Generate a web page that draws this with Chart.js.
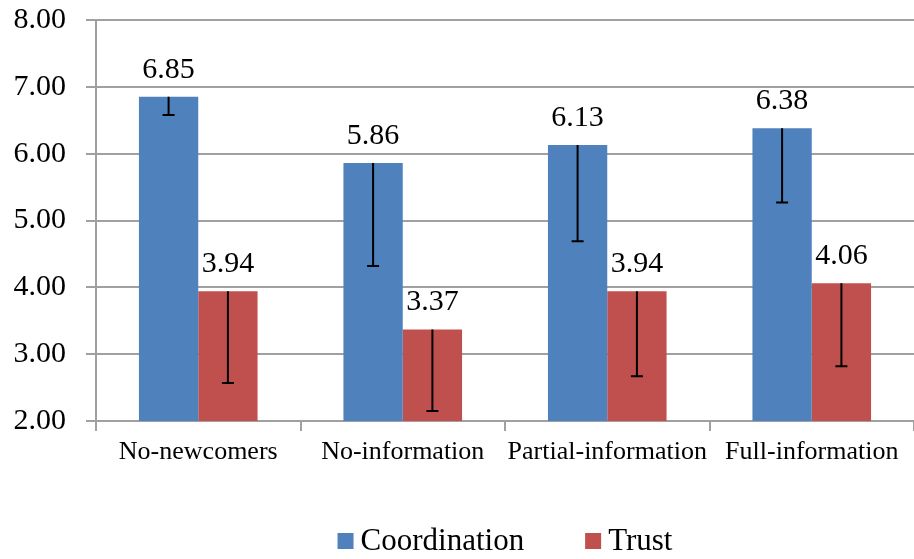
<!DOCTYPE html>
<html>
<head>
<meta charset="utf-8">
<script src="https://cdn.jsdelivr.net/npm/chart.js@4/dist/chart.umd.min.js"></script>
<style>
  html, body { margin: 0; padding: 0; background: #fff; }
  #wrap { width: 914px; height: 559px; }
</style>
</head>
<body>
<div id="wrap"><canvas id="chart" width="914" height="559"></canvas></div>
<script>
// Data
const categories = ['No-newcomers', 'No-information', 'Partial-information', 'Full-information'];
const coordination = [6.85, 5.86, 6.13, 6.38];
const trust = [3.94, 3.37, 3.94, 4.06];
// lower ends of the error bars
const coordinationLow = [6.58, 4.32, 4.69, 5.27];
const trustLow = [2.57, 2.15, 2.67, 2.82];
const yTicks = [2, 3, 4, 5, 6, 7, 8];

const serif = "'Liberation Serif', 'Times New Roman', serif";
const gridColor = '#a0a0a0';

// Error bars (downward only) + value labels on top of bars
const barExtras = {
    id: 'barExtras',
    afterDatasetsDraw(chart) {
        const ctx = chart.ctx;
        const yScale = chart.scales.y;
        const lows = [coordinationLow, trustLow];
        chart.data.datasets.forEach((ds, i) => {
            const meta = chart.getDatasetMeta(i);
            meta.data.forEach((bar, j) => {
                const yLow = yScale.getPixelForValue(lows[i][j]);
                ctx.save();
                ctx.strokeStyle = '#000';
                ctx.lineWidth = 2;
                ctx.beginPath();
                ctx.moveTo(bar.x, bar.y);
                ctx.lineTo(bar.x, yLow);
                ctx.moveTo(bar.x - 6, yLow);
                ctx.lineTo(bar.x + 6, yLow);
                ctx.stroke();

                ctx.fillStyle = '#000';
                ctx.font = '30px ' + serif;
                ctx.textAlign = 'center';
                ctx.textBaseline = 'alphabetic';
                ctx.fillText(ds.data[j].toFixed(2), bar.x, bar.y - 19);
                ctx.restore();
            });
        });
    }
};

// Legend centred under the plot area (not the whole canvas)
const plotLegend = {
    id: 'plotLegend',
    afterDraw(chart) {
        const ctx = chart.ctx;
        const area = chart.chartArea;
        const box = 16, gap = 7, between = 61, cy = 541;
        ctx.save();
        ctx.font = '31px ' + serif;
        const widths = chart.data.datasets.map(ds => ctx.measureText(ds.label).width);
        let total = 0;
        widths.forEach((w, i) => { total += box + gap + w + (i > 0 ? between : 0); });
        let x = (area.left + area.right) / 2 - total / 2;
        chart.data.datasets.forEach((ds, i) => {
            ctx.fillStyle = ds.backgroundColor;
            ctx.fillRect(x, cy - box / 2, box, box);
            ctx.fillStyle = '#000';
            ctx.textAlign = 'left';
            ctx.textBaseline = 'middle';
            ctx.fillText(ds.label, x + box + gap, cy + 1);
            x += box + gap + widths[i] + between;
        });
        ctx.restore();
    }
};

new Chart(document.getElementById('chart'), {
    type: 'bar',
    data: {
        labels: categories,
        datasets: [
            {
                label: 'Coordination',
                data: coordination,
                backgroundColor: '#4F81BD',
                categoryPercentage: 0.58,
                barPercentage: 1.0
            },
            {
                label: 'Trust',
                data: trust,
                backgroundColor: '#C0504D',
                categoryPercentage: 0.58,
                barPercentage: 1.0
            }
        ]
    },
    options: {
        responsive: false,
        animation: false,
        layout: { padding: { top: 20, right: 0, left: 0, bottom: 89 } },
        plugins: {
            tooltip: { enabled: false },
            legend: { display: false }
        },
        scales: {
            x: {
                grid: {
                    offset: true,
                    drawOnChartArea: false,
                    drawTicks: true,
                    tickLength: 10,
                    color: gridColor,
                    lineWidth: 2
                },
                border: { color: gridColor, width: 2 },
                ticks: {
                    color: '#000',
                    font: { family: serif, size: 26 },
                    padding: 6,
                    maxRotation: 0
                },
                afterFit(scale) { scale.height = 49; }
            },
            y: {
                min: 2,
                max: 8,
                afterBuildTicks(scale) {
                    scale.ticks = yTicks.map(v => ({ value: v }));
                },
                grid: {
                    color: gridColor,
                    lineWidth: 2,
                    tickLength: 10
                },
                border: { color: gridColor, width: 2 },
                ticks: {
                    color: '#000',
                    font: { family: serif, size: 30 },
                    padding: 20,
                    callback: v => Number(v).toFixed(2)
                },
                afterFit(scale) {
                    scale.width = 96;
                    scale.paddingTop = 0;
                    scale.paddingBottom = 0;
                }
            }
        }
    },
    plugins: [barExtras, plotLegend]
});
</script>
</body>
</html>
